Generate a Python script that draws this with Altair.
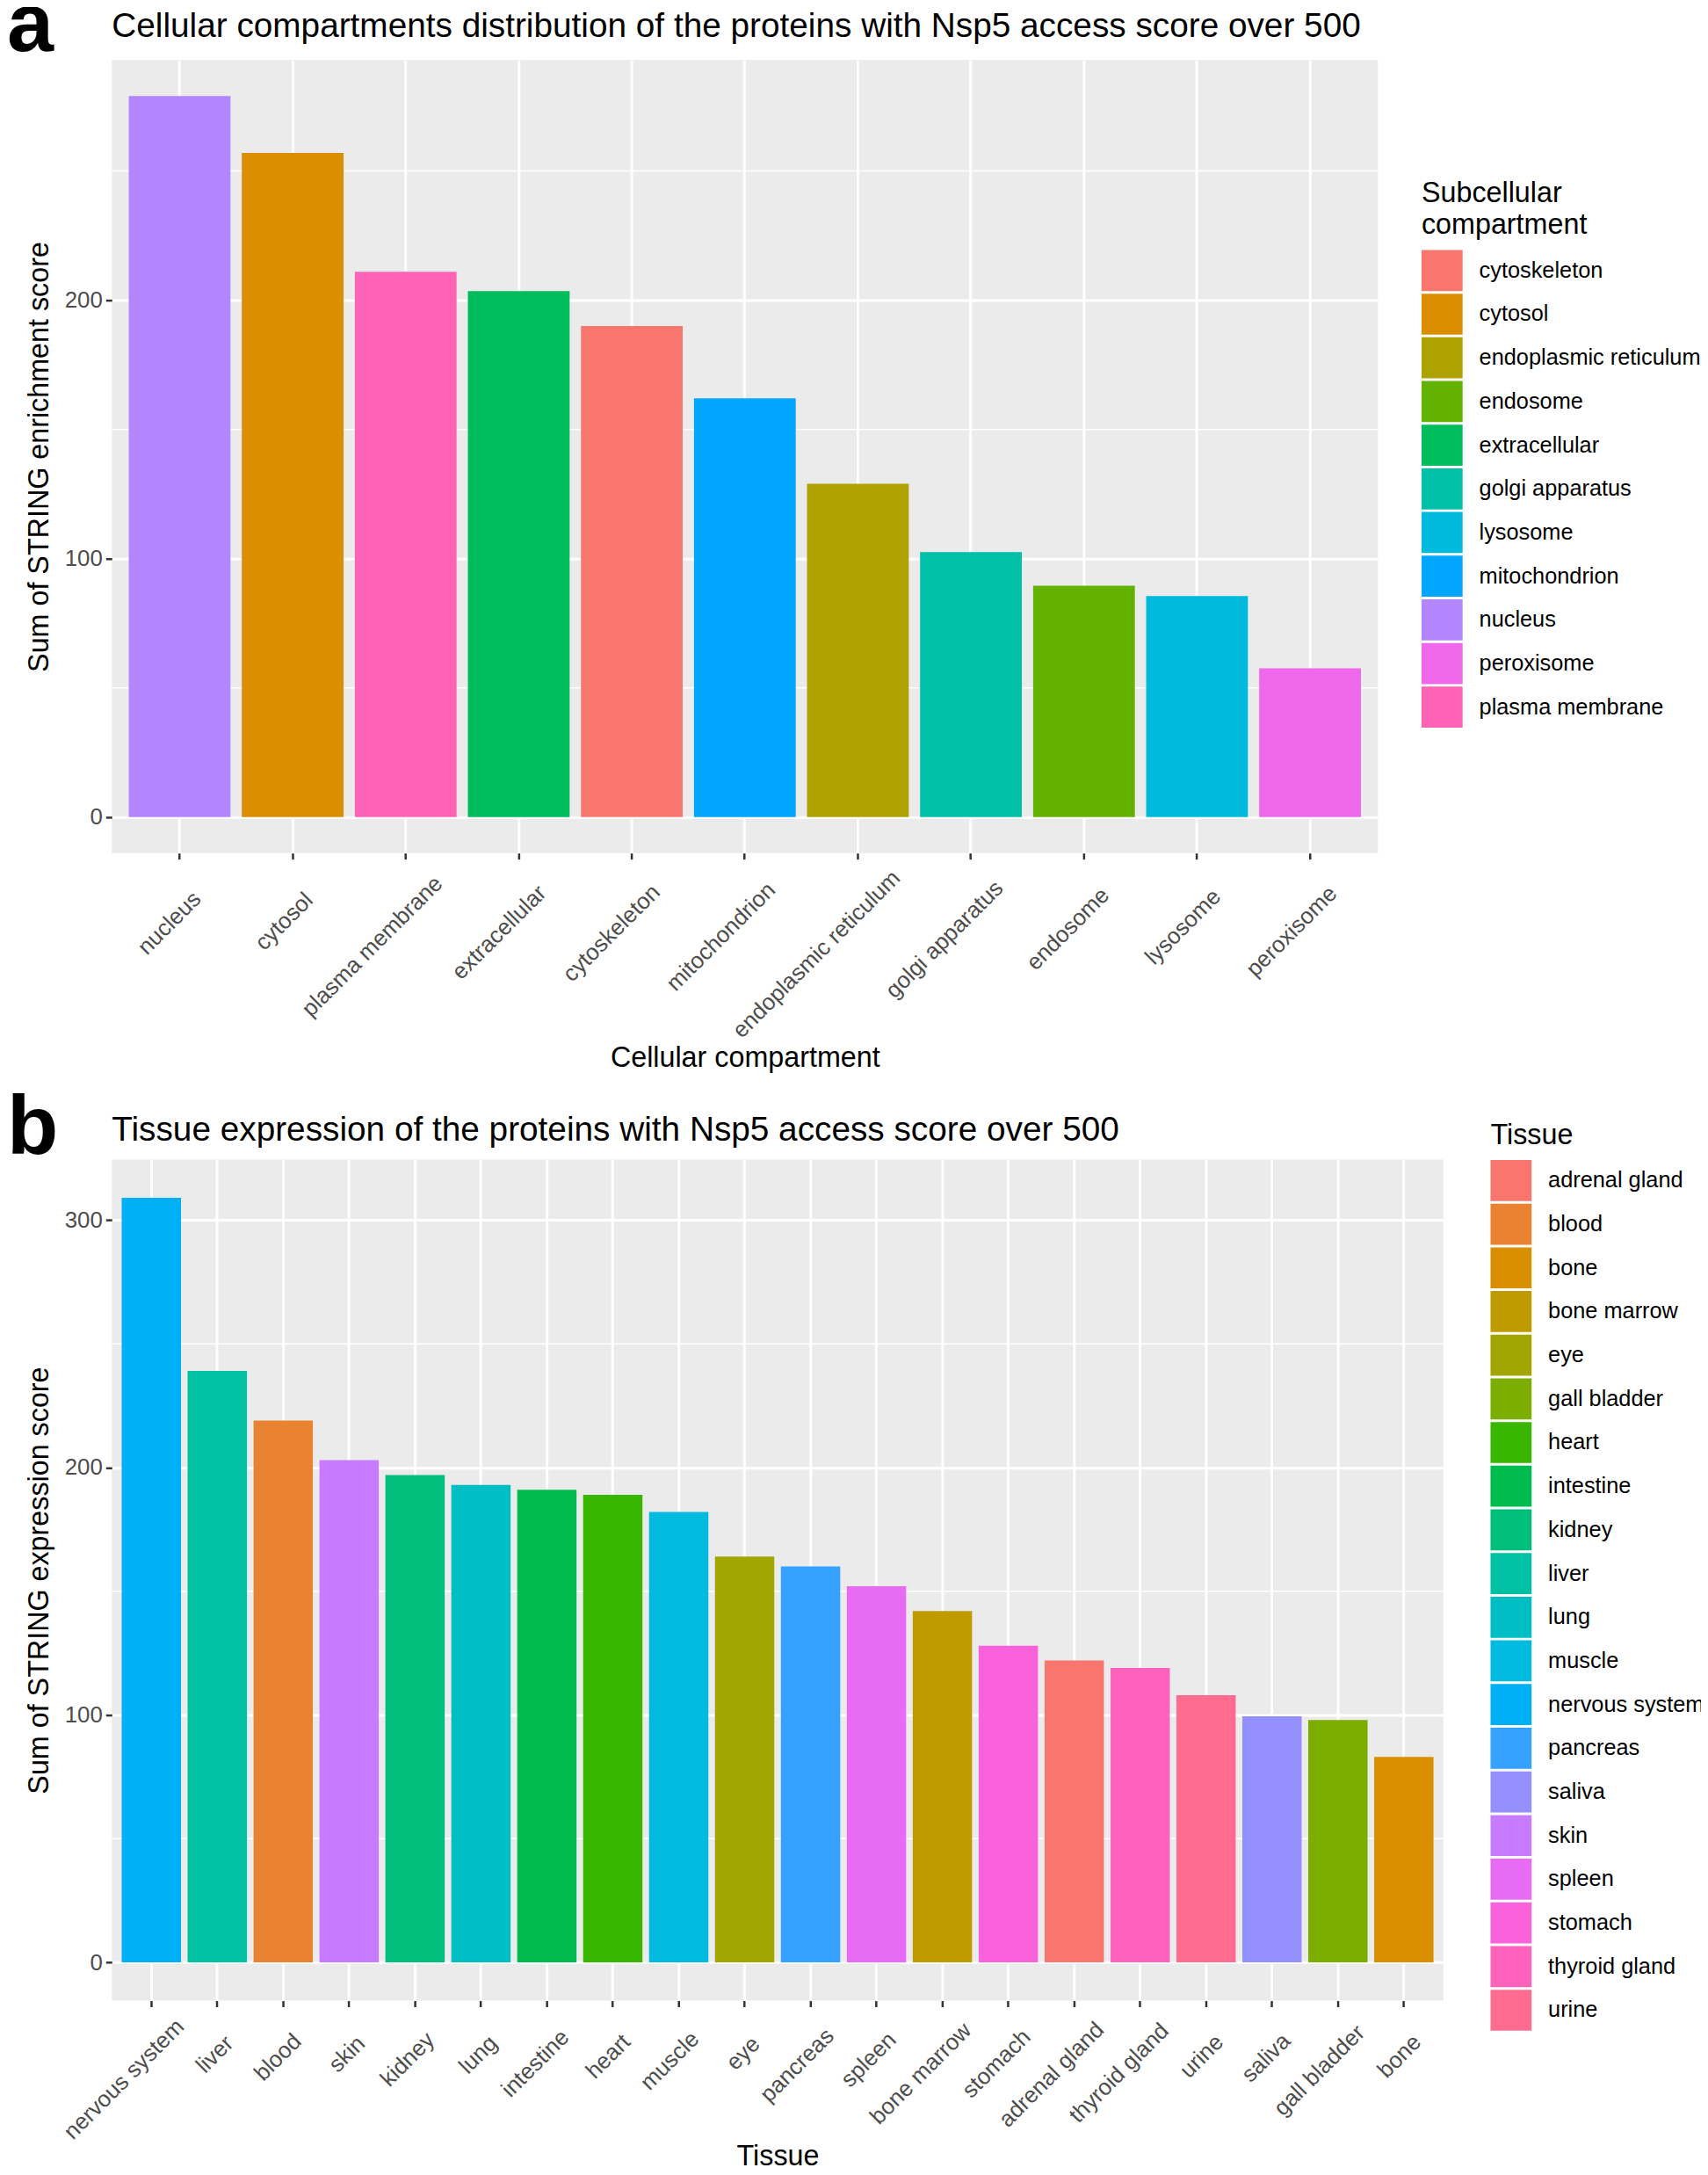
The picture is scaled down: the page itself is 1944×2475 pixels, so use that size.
import altair as alt
import pandas as pd

FONT = "Liberation Sans"

# ---------------- data ----------------
compartments = ["nucleus", "cytosol", "plasma membrane", "extracellular", "cytoskeleton",
                "mitochondrion", "endoplasmic reticulum", "golgi apparatus", "endosome",
                "lysosome", "peroxisome"]
enrichment = [279, 257, 211, 203.5, 190, 162, 129, 102.5, 89.5, 85.5, 57.5]

tissues = ["nervous system", "liver", "blood", "skin", "kidney", "lung", "intestine", "heart",
           "muscle", "eye", "pancreas", "spleen", "bone marrow", "stomach", "adrenal gland",
           "thyroid gland", "urine", "saliva", "gall bladder", "bone"]
expression = [309, 239, 219, 203, 197, 193, 191, 189, 182, 164, 160, 152, 142, 128, 122, 119,
              108, 99.5, 98, 83]

major_a = [0, 100, 200]
minor_a = [50, 150, 250]
major_b = [0, 100, 200, 300]
minor_b = [50, 150, 250]

# ggplot2 default hue palettes (alphabetical order of levels)
pal11 = ["#F8766D", "#DB8E00", "#AEA200", "#64B200", "#00BD5C", "#00C1A7", "#00BADE",
         "#00A6FF", "#B385FF", "#EF67EB", "#FF63B6"]
pal20 = ["#F8766D", "#EA8331", "#D89000", "#C09B00", "#A3A500", "#7CAE00", "#39B600",
         "#00BB4E", "#00BF7D", "#00C1A3", "#00BFC4", "#00BAE0", "#00B0F6", "#35A2FF",
         "#9590FF", "#C77CFF", "#E76BF3", "#FA62DB", "#FF62BC", "#FF6C90"]

LAB = 26
LEG = 25.5
TIT = 32.5
MAIN = 39

# approximate Arial advance widths (em) used to mimic ggplot's label justification
_W = {"a": .556, "b": .556, "c": .5, "d": .556, "e": .556, "f": .278, "g": .556, "h": .556,
      "i": .222, "j": .222, "k": .5, "l": .222, "m": .833, "n": .556, "o": .556, "p": .556,
      "q": .556, "r": .333, "s": .5, "t": .278, "u": .556, "v": .5, "w": .722, "x": .5,
      "y": .5, "z": .5, " ": .278}


def em_width(s):
    return sum(_W.get(ch, .556) for ch in s)


def cond(cats, fn, default):
    return {"condition": [{"test": "datum.value === '%s'" % c, "value": round(fn(em_width(c)), 1)}
                          for c in cats],
            "value": default}


def panel(cats, vals, majors, minors, palette, letter, title, xtitle, ytitle,
          legend_title, width, height, legend_x, legend_y, letter_y, title_y,
          pad_base, xtitle_y):
    df = pd.DataFrame({"cat": cats, "val": vals})
    vmax = max(vals)
    yscale = alt.Scale(domain=[-0.05 * vmax, 1.05 * vmax], nice=False, zero=False)
    yaxis = alt.Axis(values=majors, labelFontSize=LAB, labelColor="#4D4D4D",
                     labelFont=FONT, labelPadding=4, grid=True, gridColor="white",
                     gridWidth=3, tickSize=7, tickWidth=2.5, tickColor="#333333",
                     domain=False, titleFontSize=TIT, titleFont=FONT,
                     titleFontWeight="normal", titleColor="black", titlePadding=12)

    minor_df = pd.DataFrame({"v": minors})
    minor_rules = alt.Chart(minor_df).mark_rule(color="white", strokeWidth=1.5).encode(
        y=alt.Y("v:Q", scale=yscale, title=ytitle, axis=yaxis)
    )

    label_offset = cond(cats, lambda w: -1.8 + 3.7 * w, 10)
    label_padding = cond(cats, lambda w: max(2, pad_base - 3.7 * w), 20)

    bars = alt.Chart(df).mark_bar().encode(
        x=alt.X("cat:N", sort=cats, title=xtitle,
                scale=alt.Scale(paddingInner=0.1, paddingOuter=0.15),
                axis=alt.Axis(labelAngle=315, labelAlign="right", labelBaseline="top",
                              labelPadding=label_padding, labelOffset=label_offset,
                              labelFontSize=LAB,
                              labelColor="#4D4D4D", labelFont=FONT, labelLimit=500,
                              bandPosition=0.5, grid=True, gridColor="white", gridWidth=3,
                              ticks=True, tickSize=7, tickWidth=2.5, tickColor="#333333",
                              domain=False, titleFontSize=TIT, titleFont=FONT,
                              titleFontWeight="normal", titleColor="black",
                              titleY=xtitle_y, titleBaseline="alphabetic")),
        y=alt.Y("val:Q", scale=yscale, title=ytitle, axis=yaxis),
        color=alt.Color("cat:N",
                        scale=alt.Scale(domain=sorted(cats), range=palette),
                        legend=alt.Legend(title=legend_title, orient="none",
                                          legendX=legend_x, legendY=legend_y,
                                          direction="vertical", symbolType="square",
                                          symbolSize=2209, symbolStrokeWidth=0,
                                          symbolOpacity=1, rowPadding=3,
                                          labelFontSize=LEG, labelFont=FONT,
                                          labelColor="black", labelOffset=19,
                                          labelLimit=500, titleFontSize=TIT,
                                          titleFont=FONT, titleFontWeight="normal",
                                          titleColor="black", titlePadding=12,
                                          titleLineHeight=36, titleLimit=600)),
    )

    letter_df = pd.DataFrame({"lab": [letter]})
    letter_mark = alt.Chart(letter_df).mark_text(
        font=FONT, fontSize=96, fontWeight="bold", align="left", baseline="alphabetic",
        color="black"
    ).encode(text="lab:N", x=alt.value(-120), y=alt.value(letter_y))

    title_df = pd.DataFrame({"t": [title]})
    title_mark = alt.Chart(title_df).mark_text(
        font=FONT, fontSize=MAIN, fontWeight="normal", align="left", baseline="alphabetic",
        color="black"
    ).encode(text="t:N", x=alt.value(0), y=alt.value(title_y))

    return alt.layer(minor_rules, bars, letter_mark, title_mark).properties(
        width=width, height=height
    )


pa = panel(compartments, enrichment, major_a, minor_a, pal11, "a",
           "Cellular compartments distribution of the proteins with Nsp5 access score over 500",
           "Cellular compartment", "Sum of STRING enrichment score",
           ["Subcellular", "compartment"], 1450, 908, 1500, 137, -10, -26, 44.8, 244)

pb = panel(tissues, expression, major_b, minor_b, pal20, "b",
           "Tissue expression of the proteins with Nsp5 access score over 500",
           "Tissue", "Sum of STRING expression score",
           "Tissue", 1525, 963, 1579, -44, -7, -22, 35, 188)

chart = alt.vconcat(pa, pb, spacing=16).resolve_scale(color="independent").properties(
    padding={"left": 0, "top": -34, "right": -4, "bottom": 0}
).configure_view(fill="#EBEBEB", strokeWidth=0)

chart.save("out.html", embed_options={"renderer": "svg", "actions": False})
